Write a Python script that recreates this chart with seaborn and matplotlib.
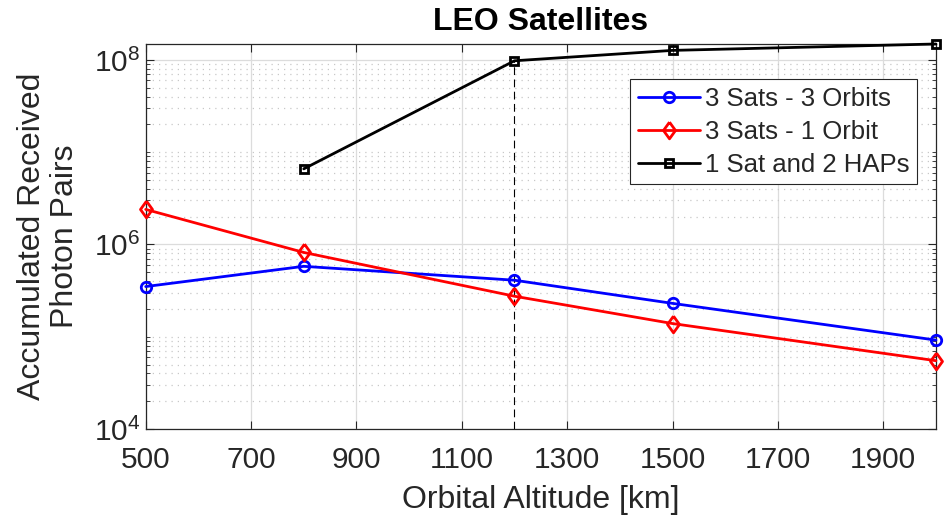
import numpy as np
import pandas as pd
import seaborn as sns
import matplotlib
matplotlib.use("Agg")
import matplotlib.pyplot as plt
from matplotlib.ticker import FixedLocator, NullFormatter

# data
altitude = [500, 800, 1200, 1500, 2000]
altitude_haps = [800, 1200, 1500, 2000]
sats_3_orbits = [3.5e5, 5.8e5, 4.1e5, 2.3e5, 9.2e4]
sats_1_orbit = [2.4e6, 8.2e5, 2.75e5, 1.39e5, 5.5e4]
sat_2_haps = [6.6e6, 9.8e7, 1.27e8, 1.49e8]
labels = ["3 Sats - 3 Orbits", "3 Sats - 1 Orbit", "1 Sat and 2 HAPs"]
x_ticks = [500, 700, 900, 1100, 1300, 1500, 1700, 1900]
y_ticks = [1e4, 1e6, 1e8]

sns.set_theme(style="ticks")
plt.rcParams['font.family'] = ['Liberation Sans', 'DejaVu Sans']
plt.rcParams['mathtext.fontset'] = 'custom'
plt.rcParams['mathtext.rm'] = 'Liberation Sans'

fig = plt.figure(figsize=(9.48, 5.23), dpi=100)
ax = fig.add_axes([0.1537, 0.1797, 0.8336, 0.7362])

# MATLAB-like diamond (a bit wider than matplotlib's 'd')
diamond = [(0, 1), (0.72, 0), (0, -1), (-0.72, 0), (0, 1)]

series = [
    (altitude, sats_3_orbits, "#0000ff", "o", 7.5, labels[0]),
    (altitude, sats_1_orbit, "#ff0000", diamond, 12, labels[1]),
    (altitude_haps, sat_2_haps, "#000000", "s", 5.5, labels[2]),
]
for xs, ys, c, m, ms, lab in series:
    df = pd.DataFrame({"alt": xs, "val": ys})
    sns.lineplot(data=df, x="alt", y="val", color=c, marker=m, markersize=ms,
                 markerfacecolor="none", markeredgecolor=c, markeredgewidth=2,
                 linewidth=2, label=lab, ax=ax, clip_on=False, zorder=3)

# dashed marker at 1200 km
ax.vlines(1200, 1e4, 1e8, colors="black", linestyles=(0, (7, 4)), linewidth=0.8, zorder=1)

ax.set_yscale("log")
ax.set_xlim(500, 2000)
ax.set_ylim(1e4, 1.49e8)
ax.xaxis.set_major_locator(FixedLocator(x_ticks))
ax.yaxis.set_major_locator(FixedLocator(y_ticks))
minor = [m * 10.0 ** e for e in range(4, 9) for m in range(1, 10)
         if not (m == 1 and e % 2 == 0)]
ax.yaxis.set_minor_locator(FixedLocator(minor))
ax.yaxis.set_minor_formatter(NullFormatter())

ax.grid(True, which="major", color="#dcdcdc", linewidth=0.9, linestyle="-")
ax.grid(True, which="minor", axis="y", color="#c8c8c8", linewidth=0.9, linestyle=(0, (1, 4)))
ax.set_axisbelow(True)

ax.tick_params(axis="both", which="both", direction="in", top=True, right=True,
               colors="#262626", labelsize=21.5)
ax.tick_params(which="major", length=6, width=0.8)
ax.tick_params(which="minor", length=3, width=0.6)
ax.tick_params(axis="x", pad=12)
ax.tick_params(axis="y", pad=4)
for sp in ax.spines.values():
    sp.set_color("#262626")
    sp.set_linewidth(0.9)

ax.set_xlabel("Orbital Altitude [km]", fontsize=23, color="#262626", labelpad=8)
ax.set_ylabel("Accumulated Received\nPhoton Pairs", fontsize=23, color="#262626",
              labelpad=10, linespacing=1.1)
ax.set_title("LEO Satellites", fontsize=23, fontweight="bold", color="black", pad=10)

leg = ax.legend(loc="upper right", bbox_to_anchor=(0.976, 0.909), fontsize=18.5,
                frameon=True, fancybox=False, edgecolor="#262626", framealpha=1,
                handlelength=2.4, borderpad=0.3, labelspacing=0.35, handletextpad=0.2,
                borderaxespad=0)
leg.get_frame().set_linewidth(0.8)

fig.savefig("out.png", dpi=100)
